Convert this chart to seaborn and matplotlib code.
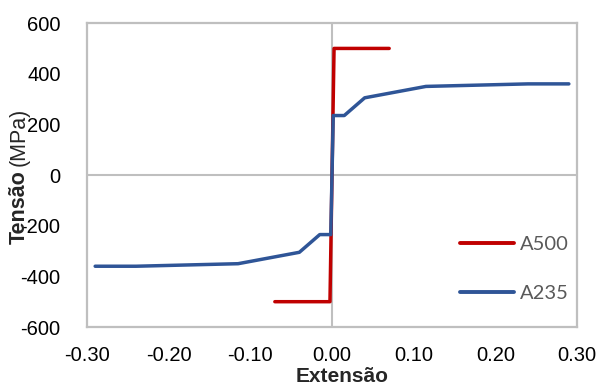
import numpy as np
import pandas as pd
import matplotlib
matplotlib.use("Agg")
import matplotlib.pyplot as plt
import seaborn as sns

# dane (extensão, tensão em MPa)
a500_x = [-0.07, -0.0025, 0.0025, 0.07]
a500_y = [-500, -500, 500, 500]

a235_x = [-0.29, -0.24, -0.115, -0.04, -0.015, -0.0015, 0.0015, 0.015, 0.04, 0.115, 0.24, 0.29]
a235_y = [-360, -360, -350, -305, -235, -235, 235, 235, 305, 350, 360, 360]

series_names = ["A500", "A235"]
series_colors = {"A500": "#C00000", "A235": "#2F5597"}

xticks = [-0.30, -0.20, -0.10, 0.00, 0.10, 0.20, 0.30]
yticks = [-600, -400, -200, 0, 200, 400, 600]

df = pd.concat([
    pd.DataFrame({"ext": a500_x, "tens": a500_y, "material": "A500"}),
    pd.DataFrame({"ext": a235_x, "tens": a235_y, "material": "A235"}),
], ignore_index=True)

sns.set_style("white")
plt.rcParams["font.family"] = ["Liberation Sans", "DejaVu Sans"]
plt.rcParams["axes.unicode_minus"] = False

fig = plt.figure(figsize=(6, 3.85), dpi=100)
ax = fig.add_axes([0.145, 0.1506, 0.8167, 0.7894])

grid_col = "#BFBFBF"
ax.axhline(0, color=grid_col, lw=1.5, zorder=1)
ax.axvline(0, color=grid_col, lw=1.5, zorder=1)

sns.lineplot(data=df, x="ext", y="tens", hue="material", hue_order=series_names,
             palette=series_colors, sort=False, estimator=None, lw=2.5,
             ax=ax, zorder=3)

ax.set_xlim(-0.30, 0.30)
ax.set_ylim(-600, 600)
ax.set_xticks(xticks)
ax.set_yticks(yticks)
ax.set_xticklabels([f"{v:.2f}" for v in xticks])
ax.set_yticklabels([f"{v:d}" for v in yticks])
ax.tick_params(axis="both", length=0, labelsize=14.5, colors="black")
ax.tick_params(axis="y", pad=19)
ax.tick_params(axis="x", pad=14)

for sp in ax.spines.values():
    sp.set_color(grid_col)
    sp.set_linewidth(1.6)

ax.set_xlabel("")
ax.set_ylabel("")

leg = ax.legend(loc="upper left", bbox_to_anchor=(0.761, 0.30), frameon=False,
                handlelength=2.7, handletextpad=0.3,
                labelspacing=1.6, borderpad=0, borderaxespad=0,
                prop={"family": "Lato", "size": 14.5})
for t in leg.get_texts():
    t.set_color("#595959")
for h in leg.get_lines():
    h.set_linewidth(2.8)

# tytuły osi
fig.text(342 / 600, 1 - 376 / 385, "Extensão", ha="center", va="center",
         fontsize=15, fontweight="bold")

t1 = fig.text(19 / 600, 1 - 244 / 385, "Tensão", rotation=90, ha="center", va="bottom",
              fontsize=15.5, fontweight="bold")
fig.canvas.draw()
bb = t1.get_window_extent()
fig.text(19 / 600, (bb.y1 + 4) / fig.bbox.height, "(MPa)", rotation=90, ha="center",
         va="bottom", fontsize=15.5)

fig.savefig("out.png", dpi=100)
